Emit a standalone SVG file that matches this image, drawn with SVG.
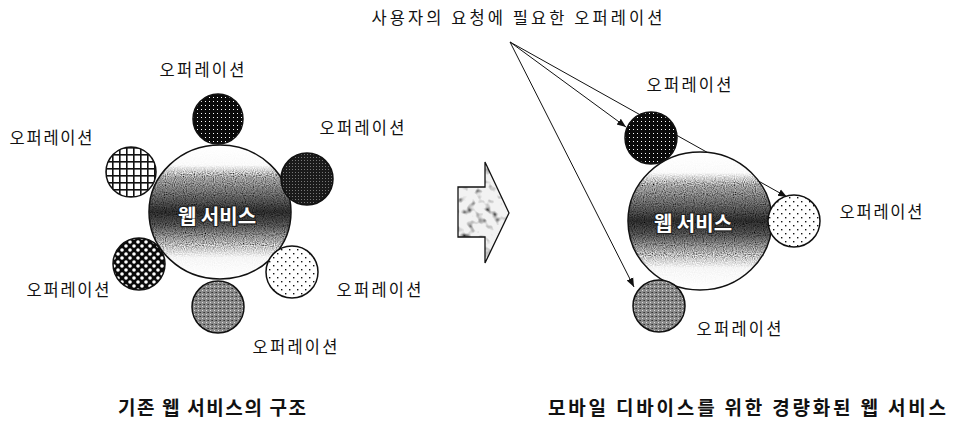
<svg xmlns="http://www.w3.org/2000/svg" width="953" height="424" viewBox="0 0 953 424">
<style>
  .lbl { font-family: "Noto Sans CJK KR", "Noto Sans", sans-serif; font-size: 16.5px; fill: #111; text-anchor: middle; }
  .cap { font-family: "Noto Sans CJK KR", "Noto Sans", sans-serif; font-size: 19px; font-weight: bold; fill: #111; text-anchor: middle; }
  .ws { font-family: "Noto Sans CJK KR", "Noto Sans", sans-serif; font-size: 20px; font-weight: bold; fill: #fff; stroke: #222; stroke-width: 2.4px; paint-order: stroke; text-anchor: middle; }
  .op { stroke: #111; stroke-width: 1.5; }
  .big { fill: url(#gBig); filter: url(#noise); }
  .bigline { fill: none; stroke: #111; stroke-width: 1.5; }
  .conn { stroke: #111; stroke-width: 1; fill: none; marker-end: url(#ah); }
</style>
<defs>
  <marker id="ah" viewBox="0 0 10 10" refX="10" refY="5" markerWidth="9" markerHeight="9" markerUnits="userSpaceOnUse" orient="auto">
    <path d="M0,1 L10,5 L0,9 Z" fill="#111"/>
  </marker>
  <linearGradient id="gBig" x1="0" y1="0" x2="0" y2="1">
    <stop offset="0" stop-color="#fff"/>
    <stop offset="0.15" stop-color="#fafafa"/>
    <stop offset="0.24" stop-color="#a0a0a0"/>
    <stop offset="0.36" stop-color="#6a6a6a"/>
    <stop offset="0.5" stop-color="#2a2a2a"/>
    <stop offset="0.6" stop-color="#505050"/>
    <stop offset="0.72" stop-color="#a8a8a8"/>
    <stop offset="0.84" stop-color="#f6f6f6"/>
    <stop offset="1" stop-color="#fff"/>
  </linearGradient>
  <filter id="noise" x="0" y="0" width="100%" height="100%">
    <feTurbulence type="fractalNoise" baseFrequency="0.9" numOctaves="1" seed="3" result="t"/>
    <feColorMatrix in="t" type="matrix" values="1.6 0 0 0 -0.3  1.6 0 0 0 -0.3  1.6 0 0 0 -0.3  0 0 0 0 1" result="g"/>
    <feBlend in="g" in2="SourceGraphic" mode="overlay" result="b"/>
    <feComposite in="b" in2="SourceGraphic" operator="in"/>
  </filter>
  <pattern id="pDarkDots" width="4" height="4" patternUnits="userSpaceOnUse">
    <rect width="4" height="4" fill="#0a0a0a"/>
    <rect x="1" y="1" width="1" height="1" fill="#fff"/>
  </pattern>
  <pattern id="pDark" width="3" height="3" patternUnits="userSpaceOnUse">
    <rect width="3" height="3" fill="#1a1a1a"/>
    <rect x="1" y="1" width="1" height="1" fill="#777"/>
  </pattern>
  <pattern id="pGrid" width="7" height="7" patternUnits="userSpaceOnUse">
    <rect width="7" height="7" fill="#fff"/>
    <rect x="0" y="0" width="1.6" height="7" fill="#111"/>
    <rect x="0" y="0" width="7" height="1.6" fill="#111"/>
  </pattern>
  <pattern id="pBlackWhiteDots" width="8" height="8" patternUnits="userSpaceOnUse">
    <rect width="8" height="8" fill="#0a0a0a"/>
    <circle cx="2" cy="2" r="1.8" fill="#fff"/>
    <circle cx="6" cy="6" r="1.8" fill="#fff"/>
  </pattern>
  <pattern id="pLightDots" width="8" height="8" patternUnits="userSpaceOnUse">
    <rect width="8" height="8" fill="#fff"/>
    <rect x="1" y="1" width="1.4" height="1.4" fill="#111"/>
    <rect x="5" y="5" width="1.4" height="1.4" fill="#111"/>
  </pattern>
  <pattern id="pGray" width="4" height="4" patternUnits="userSpaceOnUse">
    <rect width="4" height="4" fill="#8a8a8a"/>
    <rect x="0" y="0" width="1" height="1" fill="#333"/>
    <rect x="2" y="2" width="1" height="1" fill="#ddd"/>
    <rect x="3" y="0" width="1" height="1" fill="#555"/>
  </pattern>
  <filter id="grain" x="0" y="0" width="100%" height="100%">
    <feTurbulence type="fractalNoise" baseFrequency="0.12" numOctaves="2" seed="7" result="t"/>
    <feColorMatrix in="t" type="matrix" values="3 0 0 0 -0.45  3 0 0 0 -0.45  3 0 0 0 -0.45  0 0 0 0 1" result="g"/>
    <feBlend in="SourceGraphic" in2="g" mode="multiply" result="b"/>
    <feComposite in="b" in2="SourceGraphic" operator="in"/>
  </filter>
</defs>

<rect width="953" height="424" fill="#fff"/>

<!-- Left: existing web service -->
<g id="left-ws">
  <ellipse class="big" cx="220" cy="212" rx="71" ry="67"/>
  <ellipse class="bigline" cx="220" cy="212" rx="71" ry="67"/>
  <text class="ws" x="217" y="224">웹 서비스</text>
</g>
<g id="left-op-top">
  <circle class="op" cx="218" cy="119" r="25" fill="url(#pDarkDots)"/>
  <text class="lbl" x="202" y="76" textLength="85">오퍼레이션</text>
</g>
<g id="left-op-right">
  <circle class="op" cx="307" cy="179" r="26" fill="url(#pDark)"/>
  <text class="lbl" x="362" y="134" textLength="85">오퍼레이션</text>
</g>
<g id="left-op-left">
  <circle class="op" cx="131" cy="172" r="25" fill="url(#pGrid)"/>
  <text class="lbl" x="51" y="144" textLength="83">오퍼레이션</text>
</g>
<g id="left-op-leftbottom">
  <circle class="op" cx="139" cy="264" r="26" fill="url(#pBlackWhiteDots)"/>
  <text class="lbl" x="68" y="296" textLength="83">오퍼레이션</text>
</g>
<g id="left-op-rightbottom">
  <circle class="op" cx="292" cy="272" r="26" fill="url(#pLightDots)"/>
  <text class="lbl" x="379" y="296" textLength="85">오퍼레이션</text>
</g>
<g id="left-op-bottom">
  <circle class="op" cx="218" cy="307" r="26" fill="url(#pGray)"/>
  <text class="lbl" x="295" y="353" textLength="85">오퍼레이션</text>
</g>
<g id="left-caption">
  <text class="cap" x="212" y="415" textLength="188">기존 웹 서비스의 구조</text>
</g>

<!-- Block arrow -->
<g id="transition-arrow">
  <polygon points="458,187 485,187 485,162 509,213 485,263 485,237 458,237" fill="#f2f2f2" filter="url(#grain)"/>
  <polygon points="458,187 485,187 485,162 509,213 485,263 485,237 458,237" fill="none" stroke="#111" stroke-width="1.3"/>
</g>

<!-- Right: lightweight web service -->
<g id="connectors">
  <line class="conn" x1="510" y1="42" x2="626" y2="127"/>
  <line class="conn" x1="510" y1="42" x2="787" y2="197"/>
  <line class="conn" x1="510" y1="42" x2="634" y2="287"/>
</g>
<g id="right-ws">
  <ellipse class="big" cx="700" cy="221" rx="72" ry="69"/>
  <ellipse class="bigline" cx="700" cy="221" rx="72" ry="69"/>
  <text class="ws" x="693" y="231">웹 서비스</text>
</g>
<g id="right-op-top">
  <circle class="op" cx="651" cy="138" r="26" fill="url(#pDarkDots)"/>
  <text class="lbl" x="689" y="91" textLength="85">오퍼레이션</text>
</g>
<g id="right-op-right">
  <circle class="op" cx="794" cy="221" r="26" fill="url(#pLightDots)"/>
  <text class="lbl" x="881" y="218" textLength="83">오퍼레이션</text>
</g>
<g id="right-op-bottom">
  <circle class="op" cx="659" cy="306" r="26" fill="url(#pGray)"/>
  <text class="lbl" x="739" y="335" textLength="85">오퍼레이션</text>
</g>
<g id="request-label">
  <text class="lbl" x="517" y="24" font-size="15.5" textLength="291">사용자의 요청에 필요한 오퍼레이션</text>
</g>
<g id="right-caption">
  <text class="cap" x="747" y="415" textLength="398">모바일 디바이스를 위한 경량화된 웹 서비스</text>
</g>
</svg>
